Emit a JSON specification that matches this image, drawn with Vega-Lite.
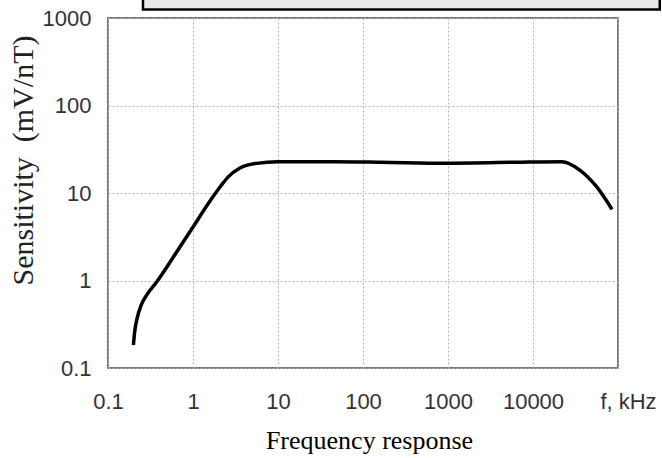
{
  "$schema": "https://vega.github.io/schema/vega-lite/v6.json",
  "width": 510,
  "height": 350,
  "autosize": {"type": "none"},
  "padding": {"left": 108, "top": 18, "right": 44, "bottom": 90},
  "background": "white",
  "config": {
    "view": {"stroke": "#7a7a7a", "strokeWidth": 2},
    "axis": {"gridColor": "#b5b5b5", "gridDash": [2, 2], "gridWidth": 1, "domain": false, "ticks": false}
  },
  "datasets": {
    "curve": [
      {"f": 0.199, "s": 0.183},
      {"f": 0.206, "s": 0.26},
      {"f": 0.22, "s": 0.37},
      {"f": 0.245, "s": 0.52},
      {"f": 0.29, "s": 0.7},
      {"f": 0.37, "s": 0.95},
      {"f": 0.614, "s": 1.98},
      {"f": 1.0, "s": 4.08},
      {"f": 1.585, "s": 8.1},
      {"f": 2.08, "s": 11.7},
      {"f": 2.58, "s": 15.2},
      {"f": 3.57, "s": 19.3},
      {"f": 5.6, "s": 21.8},
      {"f": 10.0, "s": 22.8},
      {"f": 44.7, "s": 22.8},
      {"f": 160, "s": 22.5},
      {"f": 955, "s": 21.9},
      {"f": 9100, "s": 22.6},
      {"f": 21900, "s": 22.8},
      {"f": 35500, "s": 18.3},
      {"f": 56000, "s": 11.8},
      {"f": 85000, "s": 6.5}
    ],
    "box": [{"x1": 0.258, "x2": 310000, "y1": 1250, "y2": 10000}]
  },
  "layer": [
    {
      "data": {"name": "curve"},
      "mark": {"type": "line", "color": "black", "strokeWidth": 3.5, "interpolate": "monotone"},
      "encoding": {
        "x": {
          "field": "f", "type": "quantitative",
          "scale": {"type": "log", "domain": [0.1, 100000], "nice": false},
          "axis": {
            "values": [0.1, 1, 10, 100, 1000, 10000, 100000],
            "labelExpr": "datum.value >= 99999 ? 'f, kHz' : datum.value < 0.5 ? '0.1' : format(datum.value, 'd')",
            "labelFont": "Liberation Sans", "labelFontSize": 22, "labelColor": "#333",
            "labelPadding": 23, "labelFlush": false, "labelOverlap": false,
            "labelOffset": {"condition": {"test": "datum.value >= 99999", "value": 10}, "value": 0},
            "title": "Frequency response",
            "titleFont": "Liberation Serif", "titleFontSize": 26, "titleFontWeight": "normal", "titleColor": "black",
            "titleX": 261, "titleY": 80, "titleAlign": "center", "titleBaseline": "alphabetic"
          }
        },
        "y": {
          "field": "s", "type": "quantitative",
          "scale": {"type": "log", "domain": [0.1, 1000], "nice": false},
          "axis": {
            "values": [0.1, 1, 10, 100, 1000],
            "labelExpr": "datum.value < 0.5 ? '0.1' : format(datum.value, 'd')",
            "labelFont": "Liberation Sans", "labelFontSize": 22, "labelColor": "#333",
            "labelPadding": 17, "labelFlush": false, "labelOverlap": false,
            "title": "Sensitivity\u00a0\u00a0(mV/nT)",
            "titleFont": "Liberation Serif", "titleFontSize": 30, "titleFontWeight": "normal", "titleColor": "#222",
            "titleX": -85, "titleY": 142, "titleAlign": "center", "titleBaseline": "middle"
          }
        }
      }
    },
    {
      "data": {"name": "box"},
      "mark": {"type": "rect", "fill": "#e9e9e9", "stroke": "black", "strokeWidth": 2.5, "clip": false},
      "encoding": {
        "x": {"field": "x1", "type": "quantitative"},
        "x2": {"field": "x2"},
        "y": {"field": "y1", "type": "quantitative"},
        "y2": {"field": "y2"}
      }
    }
  ]
}
